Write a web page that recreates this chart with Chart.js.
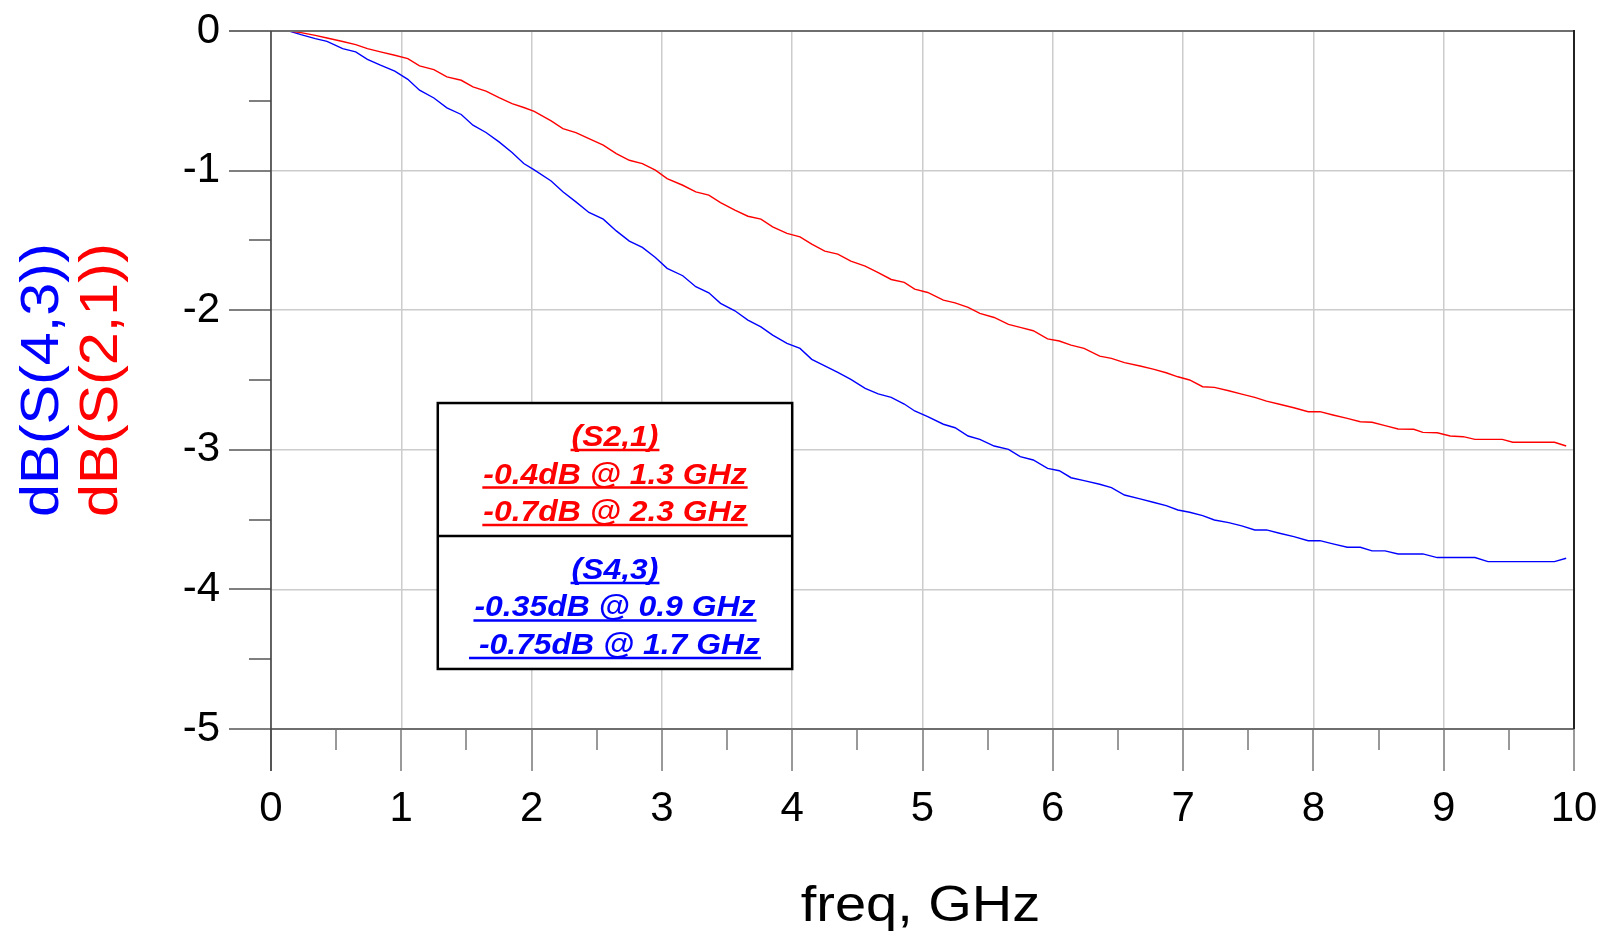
<!DOCTYPE html>
<html>
<head>
<meta charset="utf-8">
<script src="https://cdn.jsdelivr.net/npm/chart.js@4.4.1/dist/chart.umd.min.js"></script>
<style>
html,body{margin:0;padding:0;background:#fff;}
#wrap{width:1608px;height:937px;position:relative;}
</style>
</head>
<body>
<div id="wrap"><canvas id="c" width="1608" height="937"></canvas></div>
<script>
// ---- data ----
const freqGHz = [
  0.05,0.14,0.23,0.34,0.43,0.55,0.65,0.74,0.84,0.95,
  1.05,1.14,1.25,1.35,1.46,1.55,1.65,1.75,1.85,1.94,
  2.02,2.15,2.24,2.34,2.44,2.55,2.65,2.75,2.85,2.95,
  3.04,3.16,3.26,3.36,3.45,3.56,3.66,3.76,3.85,3.96,
  4.06,4.15,4.25,4.35,4.45,4.56,4.66,4.76,4.86,4.94,
  5.04,5.16,5.25,5.35,5.44,5.55,5.66,5.75,5.85,5.96,
  6.05,6.14,6.24,6.36,6.45,6.55,6.67,6.77,6.87,6.96,
  7.05,7.15,7.24,7.35,7.45,7.55,7.64,7.74,7.85,7.96,
  8.05,8.15,8.26,8.36,8.45,8.55,8.65,8.77,8.84,8.95,
  9.05,9.15,9.24,9.34,9.45,9.53,9.64,9.74,9.85,9.94
];
const s21dB = [
  0,0,-0.012,-0.031,-0.05,-0.075,-0.098,-0.126,-0.150,-0.174,
  -0.198,-0.25,-0.277,-0.329,-0.353,-0.40,-0.43,-0.477,-0.52,-0.548,
  -0.575,-0.644,-0.699,-0.728,-0.771,-0.818,-0.878,-0.926,-0.95,-0.997,
  -1.057,-1.105,-1.152,-1.176,-1.229,-1.283,-1.327,-1.348,-1.403,-1.45,
  -1.475,-1.527,-1.577,-1.598,-1.649,-1.684,-1.73,-1.78,-1.801,-1.849,
  -1.873,-1.928,-1.947,-1.98,-2.023,-2.052,-2.102,-2.123,-2.147,-2.205,
  -2.221,-2.25,-2.273,-2.329,-2.345,-2.376,-2.40,-2.422,-2.448,-2.477,
  -2.50,-2.548,-2.553,-2.577,-2.601,-2.624,-2.651,-2.674,-2.699,-2.727,
  -2.727,-2.751,-2.775,-2.799,-2.803,-2.827,-2.851,-2.853,-2.875,-2.878,
  -2.901,-2.906,-2.925,-2.925,-2.925,-2.946,-2.946,-2.946,-2.946,-2.973
];
const s43dB = [
  0,0,-0.026,-0.055,-0.074,-0.126,-0.150,-0.203,-0.245,-0.288,
  -0.346,-0.424,-0.48,-0.551,-0.598,-0.675,-0.727,-0.794,-0.870,-0.949,
  -0.995,-1.074,-1.152,-1.224,-1.30,-1.348,-1.432,-1.505,-1.55,-1.622,
  -1.70,-1.753,-1.832,-1.875,-1.951,-2.004,-2.071,-2.119,-2.178,-2.238,
  -2.274,-2.352,-2.398,-2.445,-2.495,-2.56,-2.60,-2.624,-2.672,-2.722,
  -2.763,-2.817,-2.842,-2.901,-2.925,-2.973,-2.997,-3.049,-3.073,-3.133,
  -3.15,-3.20,-3.221,-3.247,-3.271,-3.324,-3.352,-3.376,-3.40,-3.431,
  -3.447,-3.472,-3.503,-3.522,-3.545,-3.574,-3.574,-3.598,-3.622,-3.651,
  -3.651,-3.674,-3.698,-3.698,-3.724,-3.724,-3.746,-3.746,-3.746,-3.772,
  -3.772,-3.772,-3.772,-3.801,-3.801,-3.801,-3.801,-3.801,-3.801,-3.777
];
const xRange = [0, 10];
const yRange = [-5, 0];
const xTitle = 'freq, GHz';
const yTitleBlue = 'dB(S(4,3))';
const yTitleRed = 'dB(S(2,1))';
const noteS21 = ['(S2,1)', '-0.4dB @ 1.3 GHz', '-0.7dB @ 2.3 GHz'];
const noteS43 = ['(S4,3)', '-0.35dB @ 0.9 GHz', ' -0.75dB @ 1.7 GHz'];

// ---- styling / layout ----
const FONT = '"Liberation Sans", Arial, Helvetica, sans-serif';
const RED = '#ff0000', BLUE = '#0000ff';
const noteBox = {x0: 1.28, x1: 4.0, yTop: -2.665, yMid: -3.617, yBot: -4.57};

function pts(xs, ys){ return xs.map((f, i) => ({x: f, y: ys[i]})); }

const decor = {
  id: 'decor',
  afterDatasetsDraw(chart) {
    const {ctx, chartArea: a, scales: {x, y}} = chart;
    ctx.save();
    // y ticks (major long, minor short) to the left of the axis
    ctx.lineWidth = 1.5;
    ctx.strokeStyle = '#555';
    for (let v = yRange[0]; v <= yRange[1] + 1e-9; v += 0.5) {
      const py = Math.round(y.getPixelForValue(v));
      const major = Math.abs(v - Math.round(v)) < 1e-6;
      ctx.beginPath();
      ctx.moveTo(a.left - (major ? 42 : 22), py);
      ctx.lineTo(a.left, py);
      ctx.stroke();
    }
    // x ticks below the axis
    ctx.strokeStyle = '#777';
    for (let v = xRange[0]; v <= xRange[1] + 1e-9; v += 0.5) {
      const px = Math.round(x.getPixelForValue(v));
      const major = Math.abs(v - Math.round(v)) < 1e-6;
      ctx.beginPath();
      ctx.moveTo(px, a.bottom);
      ctx.lineTo(px, a.bottom + (major ? 42 : 21));
      ctx.stroke();
    }
    // frame
    ctx.lineWidth = 2;
    ctx.strokeStyle = '#6e6e6e';
    ctx.beginPath(); ctx.moveTo(a.left - 42, a.top); ctx.lineTo(a.right, a.top); ctx.stroke();
    ctx.beginPath(); ctx.moveTo(a.left, a.bottom); ctx.lineTo(a.right, a.bottom); ctx.stroke();
    ctx.strokeStyle = '#444';
    ctx.lineWidth = 1.6;
    ctx.beginPath(); ctx.moveTo(a.left, a.top); ctx.lineTo(a.left, a.bottom + 42); ctx.stroke();
    ctx.strokeStyle = '#222';
    ctx.lineWidth = 2;
    ctx.beginPath(); ctx.moveTo(a.right, a.top - 1); ctx.lineTo(a.right, a.bottom); ctx.stroke();

    // annotation box
    const bx0 = x.getPixelForValue(noteBox.x0), bx1 = x.getPixelForValue(noteBox.x1);
    const by0 = y.getPixelForValue(noteBox.yTop), byM = y.getPixelForValue(noteBox.yMid), by1 = y.getPixelForValue(noteBox.yBot);
    ctx.fillStyle = '#fff';
    ctx.fillRect(bx0, by0, bx1 - bx0, by1 - by0);
    ctx.strokeStyle = '#000';
    ctx.lineWidth = 2.5;
    ctx.strokeRect(bx0, by0, bx1 - bx0, by1 - by0);
    ctx.beginPath(); ctx.moveTo(bx0, byM); ctx.lineTo(bx1, byM); ctx.stroke();
    const cx = (bx0 + bx1) / 2;
    const SX = 1.1;
    ctx.font = 'italic bold 29px ' + FONT;
    ctx.textAlign = 'left';
    ctx.textBaseline = 'alphabetic';
    function block(lines, top, color) {
      ctx.fillStyle = color;
      ctx.strokeStyle = color;
      ctx.lineWidth = 2.5;
      lines.forEach((t, i) => {
        const w = ctx.measureText(t).width * SX;
        const base = top + 43 + i * 37.5;
        const lx = cx - w / 2;
        ctx.save(); ctx.translate(lx, base); ctx.scale(SX, 1);
        ctx.fillText(t, 0, 0); ctx.restore();
        ctx.beginPath();
        ctx.moveTo(lx - 1, base + 4);
        ctx.lineTo(lx + w + 1, base + 4);
        ctx.stroke();
      });
    }
    block(noteS21, by0, RED);
    block(noteS43, byM, BLUE);

    // x-axis title
    ctx.fillStyle = '#000';
    ctx.font = '50px ' + FONT;
    ctx.textAlign = 'center';
    ctx.textBaseline = 'alphabetic';
    ctx.save(); ctx.translate((a.left + a.right) / 2 - 2, 921); ctx.scale(1.12, 1);
    ctx.fillText(xTitle, 0, 0); ctx.restore();

    // y-axis title (two colours)
    const cy = (a.top + a.bottom) / 2;
    ctx.font = '53px ' + FONT;
    ctx.save(); ctx.translate(58, cy); ctx.rotate(-Math.PI / 2); ctx.scale(1.12, 1);
    ctx.fillStyle = BLUE; ctx.fillText(yTitleBlue, 0, 0); ctx.restore();
    ctx.save(); ctx.translate(117, cy); ctx.rotate(-Math.PI / 2); ctx.scale(1.12, 1);
    ctx.fillStyle = RED; ctx.fillText(yTitleRed, 0, 0); ctx.restore();
    ctx.restore();
  }
};

Chart.defaults.font.family = FONT;
new Chart(document.getElementById('c'), {
  type: 'line',
  data: {
    datasets: [
      {label: 'dB(S(2,1))', data: pts(freqGHz, s21dB), borderColor: RED, borderWidth: 1.4, pointRadius: 0, tension: 0, fill: false},
      {label: 'dB(S(4,3))', data: pts(freqGHz, s43dB), borderColor: BLUE, borderWidth: 1.4, pointRadius: 0, tension: 0, fill: false}
    ]
  },
  options: {
    responsive: false,
    animation: false,
    devicePixelRatio: 1,
    layout: {padding: {left: 0, right: 34, top: 31, bottom: 0}},
    plugins: {legend: {display: false}, tooltip: {enabled: false}},
    scales: {
      x: {
        type: 'linear', min: xRange[0], max: xRange[1],
        border: {display: false},
        grid: {color: '#cccccc', lineWidth: 1.5, drawTicks: true, tickLength: 55, tickColor: 'rgba(0,0,0,0)'},
        ticks: {stepSize: 1, color: '#000', font: {size: 42}, padding: 0, maxRotation: 0, autoSkip: false},
        title: {display: false},
        afterFit(s) { s.height = 208; }
      },
      y: {
        type: 'linear', min: yRange[0], max: yRange[1],
        border: {display: false},
        grid: {color: '#cccccc', lineWidth: 1.5, drawTicks: true, tickLength: 51, tickColor: 'rgba(0,0,0,0)'},
        ticks: {stepSize: 1, color: '#000', font: {size: 42}, padding: 0},
        afterFit(s) { s.width = 271; }
      }
    }
  },
  plugins: [decor]
});
</script>
</body>
</html>
